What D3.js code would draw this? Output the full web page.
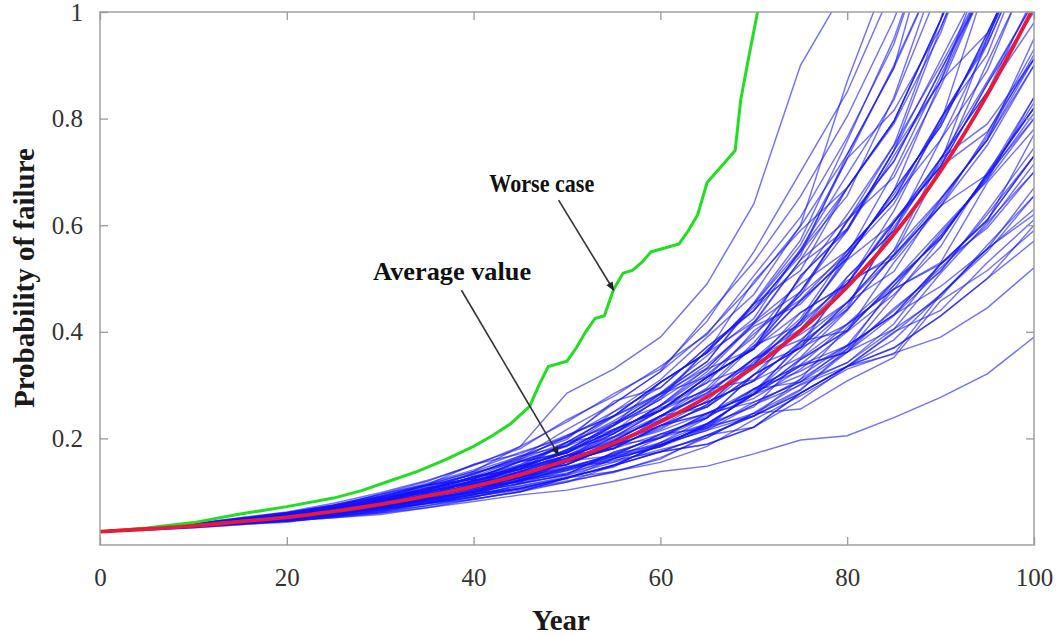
<!DOCTYPE html>
<html>
<head>
<meta charset="utf-8">
<script src="https://cdn.jsdelivr.net/npm/d3@7"></script>
<style>
  body { margin: 0; background: #fff; }
</style>
</head>
<body>
<div id="chart"></div>
<script>
var serif = "'Liberation Serif', 'Times New Roman', 'DejaVu Serif', serif";

// sample years for the simulated runs
var years = [0,5,10,15,20,25,30,35,40,45,50,55,60,65,70,75,80,85,90,95,100];

// average probability of failure (red)
var average = [0.025,0.030,0.036,0.044,0.052,0.063,0.076,0.092,0.110,0.132,0.159,0.191,0.231,0.278,0.334,0.402,0.484,0.583,0.702,0.845,1.01];

// worse case (green)
var worseYears = [0,5,10,15,20,25,28,31,34,37,40,42,44,46,47,48,50,51,52,53,54,55,56,57,58,59,60,62,63,64,65,66,67,68,68.6,69.4,70.4];
var worseValues = [0.025,0.032,0.042,0.058,0.072,0.088,0.102,0.12,0.138,0.16,0.185,0.205,0.228,0.26,0.30,0.335,0.345,0.37,0.40,0.425,0.43,0.48,0.51,0.515,0.53,0.55,0.555,0.565,0.59,0.62,0.68,0.70,0.72,0.74,0.835,0.91,1.0];

// simulated runs (blue), one value per entry of years
var runs = [
  [.025,.0294,.0348,.0398,.0448,.0531,.060,.070,.0815,.094,.103,.119,.138,.148,.171,.197,.205,.239,.277,.321,.39],
  [.025,.030,.0348,.0418,.0448,.0531,.0626,.0775,.0859,.100,.118,.138,.155,.185,.235,.28,.33,.36,.39,.445,.52],
  [.025,.030,.0373,.0463,.051,.0574,.0685,.0775,.0958,.106,.126,.138,.161,.206,.221,.285,.335,.358,.47,.556,.62],
  [.025,.0294,.0336,.0398,.0463,.0574,.0705,.0830,.0985,.116,.131,.155,.179,.201,.248,.302,.342,.405,.51,.605,.70],
  [.026,.0306,.0373,.0478,.0552,.0655,.0762,.0885,.105,.122,.139,.162,.184,.219,.247,.292,.362,.43,.515,.62,.73],
  [.025,.030,.036,.0418,.0485,.0605,.0735,.0925,.110,.131,.161,.188,.214,.248,.282,.318,.375,.48,.53,.68,.78],
  [.025,.0294,.0348,.0432,.0502,.0612,.0708,.0826,.0972,.116,.140,.168,.192,.228,.282,.35,.415,.495,.59,.685,.84],
  [.026,.0306,.0386,.0479,.0574,.0689,.0812,.0982,.116,.133,.157,.187,.232,.268,.308,.352,.44,.545,.635,.75,.90],
  [.025,.030,.0354,.0423,.0501,.0628,.0772,.0935,.121,.142,.168,.203,.252,.292,.338,.42,.535,.605,.725,.87,1.02],
  [.026,.030,.036,.0446,.0538,.0652,.0762,.0962,.111,.148,.173,.209,.262,.304,.402,.46,.552,.65,.76,.94,1.14],
  [.026,.0312,.0386,.0468,.0552,.0662,.0848,.108,.135,.157,.185,.241,.283,.332,.415,.535,.61,.72,.89,1.06,1.28],
  [.026,.0306,.0373,.0468,.0556,.0716,.0905,.113,.138,.167,.198,.27,.295,.372,.44,.55,.725,.815,.97,1.18,1.43],
  [.026,.031,.039,.049,.060,.074,.092,.112,.138,.185,.285,.33,.39,.49,.64,.90,1.05,1.2,1.3,1.4,1.5],
  [.026,.0312,.0386,.0486,.0581,.0724,.0898,.110,.133,.164,.202,.25,.31,.39,.47,.60,.87,1.1,1.3,1.4,1.5],
  [.026,.0318,.040,.0505,.0608,.0745,.0955,.119,.151,.181,.235,.279,.335,.395,.505,.615,.765,.94,1.2,1.4,1.6],
  [.025,.030,.036,.0455,.0556,.0705,.0848,.107,.124,.158,.187,.233,.285,.355,.425,.555,.695,.835,1.05,1.3,1.5],
  [.025,.0306,.038,.0469,.0588,.0689,.0868,.103,.135,.161,.193,.242,.305,.361,.452,.515,.67,.79,.96,1.2,1.5],
  [.025,.0288,.0336,.0403,.0472,.0604,.0742,.0962,.111,.139,.162,.217,.252,.315,.368,.505,.59,.74,.91,1.08,1.5],
  [.025,.0294,.0348,.0413,.0516,.0614,.0788,.0935,.121,.142,.179,.225,.283,.316,.396,.468,.61,.69,.86,1.06,1.25],
  [.026,.0306,.0373,.0458,.0551,.0661,.0832,.103,.128,.142,.168,.195,.242,.282,.35,.405,.503,.59,.76,.89,1.1],
  [.026,.0312,.0386,.0481,.0587,.0716,.0908,.103,.128,.142,.168,.181,.208,.239,.292,.306,.373,.432,.485,.555,.63],
  [.025,.0282,.0324,.0384,.0428,.0537,.0619,.0786,.0895,.108,.124,.162,.185,.227,.283,.348,.402,.493,.575,.695,.82],
  [.025,.0291,.0342,.0408,.0463,.0552,.0655,.0776,.0908,.106,.126,.149,.175,.206,.242,.285,.335,.398,.47,.556,.67],
  [.025,.030,.0366,.0446,.0533,.0614,.0795,.0888,.115,.126,.157,.189,.224,.259,.335,.37,.455,.553,.65,.76,.95],
  [.025,.0297,.0354,.0429,.0494,.0597,.0718,.0857,.101,.120,.144,.171,.204,.243,.275,.33,.40,.47,.56,.70,.82],
  [.026,.0312,.0386,.0491,.0574,.0705,.0848,.106,.124,.156,.173,.216,.253,.315,.368,.458,.538,.665,.785,.96,1.14],
  [.026,.0306,.0373,.0463,.0545,.066,.0785,.094,.107,.124,.144,.166,.188,.215,.263,.30,.335,.385,.47,.55,.655],
  [.025,.0288,.0336,.0398,.0463,.0552,.0626,.0737,.0908,.103,.118,.149,.175,.189,.221,.272,.335,.40,.44,.53,.61],
  [.026,.0312,.0386,.0481,.0588,.0692,.0832,.0985,.121,.138,.168,.192,.224,.246,.293,.326,.374,.432,.527,.61,.73],
  [.025,.030,.036,.0434,.0488,.0607,.0738,.0826,.0995,.122,.141,.165,.184,.227,.283,.336,.362,.444,.513,.626,.745],
  [.025,.029,.0342,.0408,.0448,.0545,.0655,.080,.0958,.110,.126,.15,.188,.215,.242,.29,.368,.44,.52,.60,.715],
  [.025,.0303,.0366,.0446,.0517,.0632,.0796,.0932,.109,.126,.157,.168,.208,.239,.293,.338,.414,.48,.586,.684,.80],
  [.025,.0294,.0348,.0413,.0457,.0581,.0676,.0788,.0892,.115,.132,.162,.185,.227,.283,.336,.362,.466,.574,.696,.84],
  [.025,.0282,.0324,.038,.0448,.0513,.0573,.070,.0859,.100,.126,.150,.188,.223,.263,.311,.408,.487,.58,.69,.81],
  [.025,.0297,.0354,.0424,.0516,.0591,.0729,.0888,.109,.118,.157,.181,.242,.259,.319,.37,.455,.513,.648,.76,.912],
  [.026,.0309,.038,.0469,.0569,.0689,.0832,.103,.128,.148,.179,.203,.242,.286,.349,.395,.455,.543,.648,.76,.90],
  [.025,.0291,.0342,.0423,.0472,.0581,.0676,.0868,.099,.122,.133,.174,.201,.247,.284,.365,.442,.543,.636,.772,.93],
  [.025,.030,.036,.0446,.0533,.0642,.0762,.0888,.115,.134,.157,.181,.224,.271,.349,.385,.455,.553,.725,.79,.912],
  [.025,.0294,.0348,.0423,.0472,.0604,.0708,.0868,.0995,.13,.151,.187,.217,.264,.339,.436,.49,.605,.71,.865,1.02],
  [.026,.0312,.0386,.0491,.0608,.0745,.0915,.112,.124,.157,.173,.217,.253,.305,.339,.419,.49,.605,.725,.85,1.03],
  [.025,.030,.036,.0434,.0488,.0607,.0738,.0962,.111,.138,.162,.202,.253,.315,.369,.436,.49,.61,.71,.865,1.0],
  [.026,.0303,.0366,.0463,.0545,.0645,.0785,.0995,.119,.145,.176,.213,.257,.29,.374,.47,.545,.64,.792,.952,1.14],
  [.025,.0294,.0348,.0413,.0501,.0573,.0695,.0845,.103,.122,.157,.195,.242,.285,.349,.425,.552,.65,.80,.94,1.14],
  [.026,.0312,.0386,.0481,.0556,.0734,.0885,.107,.124,.148,.173,.224,.273,.33,.369,.458,.538,.665,.785,.96,1.14],
  [.025,.030,.036,.0434,.0517,.0642,.0795,.0935,.109,.126,.157,.181,.224,.259,.319,.405,.49,.627,.80,.92,1.14],
  [.026,.0306,.0373,.0463,.0545,.067,.0859,.1048,.119,.15,.189,.229,.26,.32,.39,.50,.62,.75,.90,1.06,1.28],
  [.025,.0297,.0354,.0424,.0501,.0614,.0762,.0932,.115,.133,.168,.209,.262,.325,.415,.475,.607,.72,.89,1.05,1.28],
  [.025,.0303,.0366,.0458,.052,.0677,.0808,.101,.117,.143,.162,.209,.252,.315,.368,.476,.59,.73,.87,1.06,1.28],
  [.025,.0303,.0366,.0446,.0552,.0661,.0795,.0932,.121,.147,.193,.225,.283,.344,.452,.553,.67,.795,.985,1.18,1.43],
  [.025,.0294,.0348,.0403,.0485,.0567,.0695,.0845,.103,.122,.157,.195,.242,.295,.38,.475,.607,.75,.985,1.2,1.43],
  [.026,.0312,.0386,.0491,.0574,.0734,.0885,.112,.131,.167,.186,.25,.295,.372,.44,.527,.593,.74,.87,1.1,1.43],
  [.026,.0309,.038,.0469,.057,.0689,.0872,.103,.128,.161,.205,.242,.305,.361,.452,.563,.725,.90,1.09,1.3,1.6],
  [.025,.030,.036,.0446,.0517,.0628,.0738,.0962,.111,.148,.173,.224,.273,.366,.44,.55,.655,.84,1.09,1.3,1.6],
  [.026,.0315,.0393,.0498,.060,.0753,.094,.1155,.141,.174,.202,.265,.325,.398,.49,.598,.733,.895,1.09,1.3,1.6],
  [.025,.030,.036,.0458,.052,.0677,.0808,.103,.128,.151,.193,.242,.285,.344,.455,.572,.758,.95,1.2,1.4,1.6],
  [.026,.0318,.040,.0511,.062,.0782,.098,.121,.149,.185,.231,.284,.33,.42,.55,.70,.85,1.05,1.25,1.4,1.6],
  [.026,.0306,.036,.0434,.0485,.0567,.0729,.0888,.109,.118,.147,.156,.192,.238,.32,.37,.414,.48,.527,.61,.73],
  [.025,.0294,.0348,.0403,.0457,.0581,.0676,.0786,.0944,.122,.151,.187,.234,.268,.308,.42,.538,.665,.87,.96,1.14],
  [.026,.030,.0373,.0463,.0563,.067,.0785,.0948,.107,.128,.144,.171,.188,.223,.242,.285,.335,.37,.43,.50,.60],
  [.025,.0294,.036,.0413,.0501,.0614,.0695,.0845,.103,.126,.168,.181,.224,.247,.283,.38,.442,.605,.71,.775,.912],
  [.026,.0306,.0386,.0491,.0574,.0705,.0808,.101,.115,.134,.151,.187,.201,.247,.268,.306,.362,.405,.465,.563,.655],
  [.025,.030,.0348,.0418,.051,.0645,.0785,.0995,.126,.145,.176,.229,.278,.366,.446,.543,.733,.895,1.21,1.4,1.6],
  [.025,.030,.036,.0469,.0533,.0614,.0762,.0845,.0995,.115,.133,.174,.201,.239,.319,.37,.503,.59,.725,.85,.98],
  [.025,.0294,.0354,.0413,.0472,.0581,.0648,.0786,.0944,.111,.128,.146,.192,.219,.293,.338,.374,.432,.527,.608,.77],
  [.026,.0306,.0373,.0446,.0516,.0638,.0832,.103,.121,.142,.193,.209,.262,.332,.418,.535,.67,.795,.985,1.3,1.6],
  [.025,.030,.0366,.0434,.0488,.0591,.0695,.0803,.092,.105,.12,.136,.164,.202,.247,.255,.308,.352,.458,.515,.59],
  [.025,.030,.0373,.0486,.060,.0724,.0859,.0995,.119,.136,.154,.184,.220,.263,.344,.413,.545,.658,.792,1.06,1.28],
  [.025,.0294,.0342,.0403,.0443,.0537,.0648,.0826,.0944,.122,.142,.162,.201,.227,.259,.348,.402,.53,.636,.695,.82],
  [.026,.0306,.038,.0481,.0569,.0716,.0955,.113,.151,.171,.206,.242,.305,.361,.418,.49,.552,.65,.80,.945,1.2],
  [.025,.030,.0354,.044,.0527,.067,.0785,.0948,.107,.128,.165,.198,.238,.310,.374,.413,.496,.537,.642,.766,.92],
  [.025,.030,.036,.0424,.0485,.0591,.0762,.0888,.115,.143,.179,.225,.305,.361,.495,.59,.67,.795,.985,1.18,1.43],
  [.025,.0297,.0348,.0418,.0494,.0597,.0718,.0814,.0958,.106,.126,.149,.188,.223,.288,.375,.448,.597,.717,.952,1.14],
  [.025,.030,.036,.0434,.0517,.0591,.0729,.0888,.109,.126,.147,.168,.208,.219,.268,.306,.342,.415,.527,.595,.70],
  [.026,.0306,.0386,.0474,.0545,.067,.082,.105,.133,.164,.217,.265,.325,.43,.531,.654,.804,.986,1.21,1.4,1.6],
  [.025,.0294,.0348,.0424,.0517,.0614,.0772,.0915,.105,.138,.151,.187,.234,.292,.31,.38,.49,.545,.71,.905,1.09],
  [.025,.030,.0366,.0463,.0545,.0645,.075,.0857,.101,.120,.135,.159,.175,.206,.242,.311,.368,.487,.58,.69,.83],
  [.025,.030,.0373,.0458,.052,.0677,.0848,.112,.124,.157,.186,.217,.252,.315,.368,.505,.593,.74,.97,1.18,1.43],
  [.025,.0294,.0348,.0408,.0448,.0511,.060,.0737,.0859,.100,.126,.149,.175,.189,.221,.285,.335,.37,.43,.50,.57],
  [.026,.0306,.0373,.0469,.0588,.0716,.0872,.101,.117,.148,.162,.202,.234,.268,.308,.382,.402,.495,.575,.695,.80],
  [.025,.030,.0354,.0429,.0478,.0574,.0718,.0857,.107,.136,.176,.213,.278,.338,.41,.452,.545,.70,.88,1.06,1.28]
];

var xTicks = [0,20,40,60,80,100];
var yTicks = [0.2,0.4,0.6,0.8,1];

var width = 1058, height = 637;
var x = d3.scaleLinear().domain([0,100]).range([100,1034]);
var y = d3.scaleLinear().domain([0,1]).range([545,12]);

var svg = d3.select("#chart").append("svg")
  .attr("width", width)
  .attr("height", height);

var defs = svg.append("defs");
defs.append("clipPath").attr("id","plotClip")
  .append("rect")
  .attr("x", x(0)).attr("y", y(1))
  .attr("width", x(100) - x(0)).attr("height", y(0) - y(1));

defs.append("marker")
  .attr("id","arrow")
  .attr("viewBox","0 0 10 10")
  .attr("refX", 9).attr("refY", 5)
  .attr("markerWidth", 10).attr("markerHeight", 9)
  .attr("markerUnits","userSpaceOnUse")
  .attr("orient","auto")
  .append("path").attr("d","M0,1 L10,5 L0,9 Z").attr("fill","#222");

var plot = svg.append("g").attr("clip-path","url(#plotClip)");

var line = d3.line()
  .x(function(d) { return x(d[0]); })
  .y(function(d) { return y(d[1]); });

plot.selectAll("path.run")
  .data(runs)
  .enter().append("path")
  .attr("class","run")
  .attr("d", function(r) { return line(r.map(function(v, i) { return [years[i], v]; })); })
  .attr("fill","none")
  .attr("stroke","#1212ff")
  .attr("stroke-opacity",0.6)
  .attr("stroke-width",1.45);

plot.append("path")
  .attr("d", line(worseYears.map(function(t, i) { return [t, worseValues[i]]; })))
  .attr("fill","none")
  .attr("stroke","#22dd22")
  .attr("stroke-width",3);

plot.append("path")
  .attr("d", d3.line().curve(d3.curveMonotoneX)
    .x(function(d) { return x(d[0]); })
    .y(function(d) { return y(d[1]); })(years.map(function(t, i) { return [t, average[i]]; })))
  .attr("fill","none")
  .attr("stroke","#ec1838")
  .attr("stroke-width",3.8);

// frame
svg.append("rect")
  .attr("x", x(0)).attr("y", y(1))
  .attr("width", x(100) - x(0)).attr("height", y(0) - y(1))
  .attr("fill","none").attr("stroke","#a0a0a0").attr("stroke-width",1.5);

function styleAxis(g) {
  g.attr("font-family", serif).attr("font-size", 25);
  g.select(".domain").remove();
  g.selectAll(".tick line").attr("stroke","#999").attr("stroke-width",1.3);
  g.selectAll(".tick text").attr("fill","#333");
}

svg.append("g")
  .attr("transform","translate(0," + y(0) + ")")
  .call(d3.axisBottom(x).tickValues(xTicks).tickSize(-8).tickPadding(23).tickFormat(d3.format("d")))
  .call(styleAxis);

svg.append("g")
  .attr("transform","translate(" + x(0) + ",0)")
  .call(d3.axisLeft(y).tickValues(yTicks).tickSize(-8).tickPadding(17).tickFormat(function(d) { return d === 1 ? "1" : d3.format(".1f")(d); }))
  .call(styleAxis);

svg.append("g")
  .attr("transform","translate(0," + y(1) + ")")
  .call(d3.axisTop(x).tickValues(xTicks).tickSize(-8).tickFormat(""))
  .call(styleAxis);

svg.append("g")
  .attr("transform","translate(" + x(100) + ",0)")
  .call(d3.axisRight(y).tickValues(yTicks).tickSize(-8).tickFormat(""))
  .call(styleAxis);

// axis titles
svg.append("text")
  .attr("x", 561).attr("y", 630)
  .attr("text-anchor","middle")
  .attr("font-family", serif)
  .attr("font-size", 29).attr("font-weight","bold")
  .attr("fill","#1a1a1a")
  .text("Year");

svg.append("text")
  .attr("transform","translate(34,278) rotate(-90)")
  .attr("text-anchor","middle")
  .attr("font-family", serif)
  .attr("font-size", 29).attr("font-weight","bold")
  .attr("fill","#1a1a1a")
  .text("Probability of failure");

// annotations
var notes = [
  { label: "Worse case", width: 105, tx: 47.3, ty: 0.662, x1: 49.1, y1: 0.647, x2: 55.0, y2: 0.478 },
  { label: "Average value", width: 158, tx: 37.7, ty: 0.497, x1: 38.7, y1: 0.478, x2: 49.1, y2: 0.169 }
];

notes.forEach(function(n) {
  svg.append("text")
    .attr("x", x(n.tx)).attr("y", y(n.ty))
    .attr("text-anchor","middle")
    .attr("font-family", serif)
    .attr("font-size", 25).attr("font-weight","bold")
    .attr("textLength", n.width).attr("lengthAdjust","spacingAndGlyphs")
    .attr("fill","#111")
    .text(n.label);
  svg.append("line")
    .attr("x1", x(n.x1)).attr("y1", y(n.y1))
    .attr("x2", x(n.x2)).attr("y2", y(n.y2))
    .attr("stroke","#333").attr("stroke-width",1.6)
    .attr("marker-end","url(#arrow)");
});
</script>
</body>
</html>
